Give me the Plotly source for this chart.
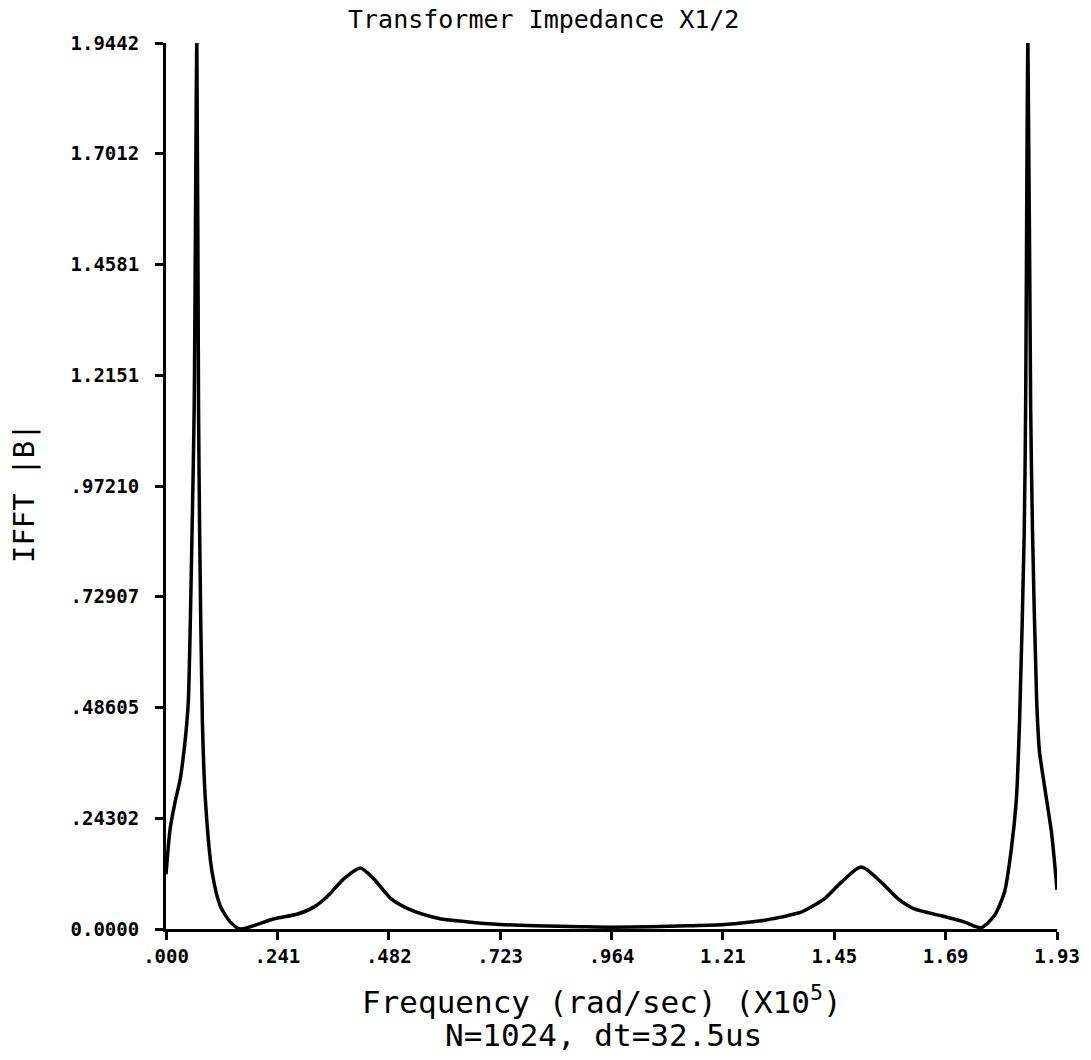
import plotly.graph_objects as go

# Frequency (x 1e5 rad/sec) and IFFT |B| magnitude
freq = [0.000, 0.009, 0.020, 0.031, 0.040, 0.044, 0.0484, 0.0564, 0.061, 0.0668,
        0.0705, 0.0729, 0.0787, 0.0852, 0.0998, 0.1178, 0.1395, 0.161, 0.189, 0.233,
        0.285, 0.320, 0.350, 0.385, 0.421, 0.450, 0.488, 0.525, 0.567, 0.596,
        0.650, 0.723, 0.800, 0.900, 0.964, 1.050, 1.130, 1.210, 1.289, 1.332,
        1.361, 1.376, 1.426, 1.463, 1.506, 1.549, 1.586, 1.621, 1.680, 1.730,
        1.766, 1.794, 1.816, 1.831, 1.842, 1.849, 1.859, 1.862, 1.867, 1.873,
        1.877, 1.886, 1.892, 1.902, 1.911, 1.918, 1.924, 1.930]
mag = [0.120, 0.220, 0.280, 0.330, 0.400, 0.440, 0.500, 0.870, 1.140, 1.9442,
       1.140, 0.870, 0.460, 0.285, 0.125, 0.050, 0.015, 0.000, 0.007, 0.022,
       0.033, 0.048, 0.072, 0.110, 0.134, 0.110, 0.066, 0.044, 0.029, 0.022,
       0.016, 0.010, 0.007, 0.005, 0.004, 0.005, 0.007, 0.010, 0.018, 0.026,
       0.033, 0.037, 0.066, 0.103, 0.136, 0.103, 0.066, 0.044, 0.029, 0.015,
       0.003, 0.029, 0.080, 0.175, 0.285, 0.460, 0.870, 1.140, 1.9442, 1.140,
       0.870, 0.500, 0.390, 0.320, 0.260, 0.213, 0.154, 0.086]

x_tickvals = [0.0, 0.24125, 0.4825, 0.72375, 0.965, 1.20625, 1.4475, 1.68875, 1.93]
x_ticktext = [".000", ".241", ".482", ".723", ".964", "1.21", "1.45", "1.69", "1.93"]
y_tickvals = [0.0, 0.243025, 0.48605, 0.729075, 0.9721, 1.215125, 1.45815, 1.701175, 1.9442]
y_ticktext = ["0.0000", ".24302", ".48605", ".72907", ".97210", "1.2151", "1.4581", "1.7012", "1.9442"]

MONO = "DejaVu Sans Mono"

fig = go.Figure()
fig.add_trace(go.Scatter(x=freq, y=mag, mode="lines",
                         line=dict(color="black", width=3.5, shape="spline", smoothing=0.7),
                         showlegend=False))

fig.update_layout(
    width=1091, height=1060,
    margin=dict(l=166, r=34, t=43, b=131),
    paper_bgcolor="white", plot_bgcolor="white",
    xaxis=dict(range=[0, 1.93], tickvals=x_tickvals, ticktext=x_ticktext,
               showgrid=False, zeroline=False, showline=True, linecolor="black",
               linewidth=3, ticks="outside", ticklen=8, tickwidth=3, tickcolor="black",
               tickfont=dict(family=MONO, size=19, color="black", weight="bold"),
               ticklabelstandoff=0),
    yaxis=dict(range=[0, 1.9442], tickvals=y_tickvals, ticktext=y_ticktext,
               showgrid=False, zeroline=False, showline=True, linecolor="black",
               linewidth=3, ticks="outside", ticklen=8, tickwidth=3, tickcolor="black",
               tickfont=dict(family=MONO, size=19, color="black", weight="bold"),
               ticklabelstandoff=12),
    annotations=[
        dict(text="Transformer Impedance X1/2", xref="paper", yref="paper",
             x=0.4242, y=1.026, xanchor="center", yanchor="middle", showarrow=False,
             font=dict(family=MONO, size=25, color="black")),
        dict(text="Frequency (rad/sec) (X10<sup>5</sup>)", xref="paper", yref="paper",
             x=0.489, y=-0.080, xanchor="center", yanchor="middle", showarrow=False,
             font=dict(family=MONO, size=31, color="black")),
        dict(text="N=1024, dt=32.5us", xref="paper", yref="paper",
             x=0.4905, y=-0.1196, xanchor="center", yanchor="middle", showarrow=False,
             font=dict(family=MONO, size=31, color="black")),
        dict(text="IFFT |B|", xref="paper", yref="paper", textangle=-90,
             x=-0.1594, y=0.492, xanchor="center", yanchor="middle", showarrow=False,
             font=dict(family=MONO, size=29, color="black")),
    ],
)

fig.write_html("out.html")
